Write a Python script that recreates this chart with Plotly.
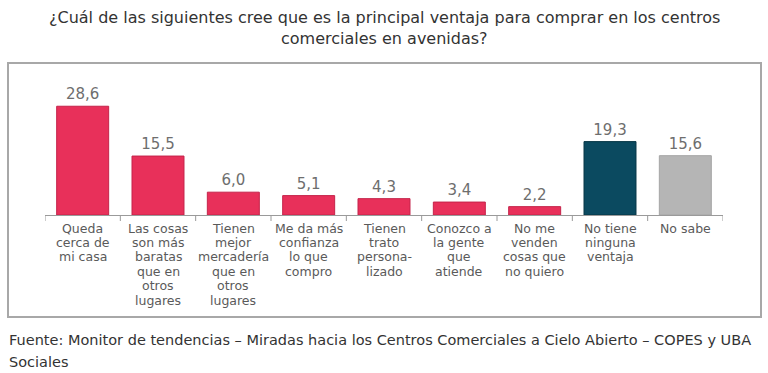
import plotly.graph_objects as go

categories = [
    "Queda<br>cerca de<br>mi casa",
    "Las cosas<br>son más<br>baratas<br>que en<br>otros<br>lugares",
    "Tienen<br>mejor<br>mercadería<br>que en<br>otros<br>lugares",
    "Me da más<br>confianza<br>lo que<br>compro",
    "Tienen<br>trato<br>persona-<br>lizado",
    "Conozco a<br>la gente<br>que<br>atiende",
    "No me<br>venden<br>cosas que<br>no quiero",
    "No tiene<br>ninguna<br>ventaja",
    "No sabe",
]
values = [28.6, 15.5, 6.0, 5.1, 4.3, 3.4, 2.2, 19.3, 15.6]
bar_colors = ["#E8305A"] * 7 + ["#0B4A60", "#B5B5B5"]
line_colors = ["#C4234A"] * 7 + ["#073646", "#A5A5A5"]

title_lines = ["¿Cuál de las siguientes cree que es la principal ventaja para comprar en los centros",
               "comerciales en avenidas?"]
source_lines = ["Fuente: Monitor de tendencias – Miradas hacia los Centros Comerciales a Cielo Abierto – COPES y UBA",
                "Sociales"]

labels = [f"{v:.1f}".replace(".", ",") for v in values]
x_idx = list(range(len(categories)))

FONT = "DejaVu Sans"

fig = go.Figure(go.Bar(
    x=x_idx, y=values,
    marker=dict(color=bar_colors, line=dict(color=line_colors, width=1)),
    text=labels, textposition="outside", cliponaxis=False,
    textfont=dict(family=FONT, size=15, color="#6E6E6E"),
    hoverinfo="skip",
))

W, H = 768, 373
L, R, T, B = 45, 45, 80, 158
pw, ph = W - L - R, H - T - B

def px(x):
    return (x - L) / pw

def py(y):
    return (H - B - y) / ph

annotations = []
for k, line in enumerate(title_lines):
    annotations.append(dict(text=line, xref="paper", yref="paper",
                            x=px(384), y=py(17 + 21 * k), xanchor="center", yanchor="middle",
                            showarrow=False, font=dict(family=FONT, size=16, color="#333333")))
for k, line in enumerate(source_lines):
    annotations.append(dict(text=line, xref="paper", yref="paper",
                            x=px(7), y=py(340 + 22 * k), xanchor="left", yanchor="middle",
                            showarrow=False, font=dict(family=FONT, size=14.5, color="#333333")))
for i, cat in enumerate(categories):
    for k, line in enumerate(cat.split("<br>")):
        annotations.append(dict(text=line, xref="x", yref="paper",
                                x=i, y=py(228 + 14.4 * k), xanchor="center", yanchor="middle",
                                showarrow=False, font=dict(family=FONT, size=12.5, color="#5A5A5A")))

fig.update_layout(
    width=W, height=H,
    margin=dict(l=L, r=R, t=T, b=B, autoexpand=False),
    paper_bgcolor="white", plot_bgcolor="white",
    bargap=0.31,
    showlegend=False,
    font=dict(family=FONT, color="#555555"),
    xaxis=dict(
        range=[-0.5, len(categories) - 0.5],
        showline=True, linecolor="#9A9A9A", linewidth=1,
        ticks="", showticklabels=False, showgrid=False, zeroline=False, automargin=False,
        fixedrange=True,
    ),
    yaxis=dict(range=[0, 35.5], visible=False, fixedrange=True, automargin=False),
    shapes=[
        dict(type="rect", xref="paper", yref="paper",
             x0=px(8), x1=px(761), y0=py(317), y1=py(63),
             line=dict(color="#A8A8A8", width=2), fillcolor="rgba(0,0,0,0)", layer="above"),
    ] + [
        dict(type="line", xref="x", yref="paper",
             x0=i - 0.5, x1=i - 0.5, y0=0, y1=py(H - B + 6),
             line=dict(color="#9A9A9A", width=1))
        for i in range(len(categories) + 1)
    ],
    annotations=annotations,
)

fig.write_html("out.html", config={"displayModeBar": False},
               post_script="document.body.style.margin='0';document.body.style.padding='0';")
